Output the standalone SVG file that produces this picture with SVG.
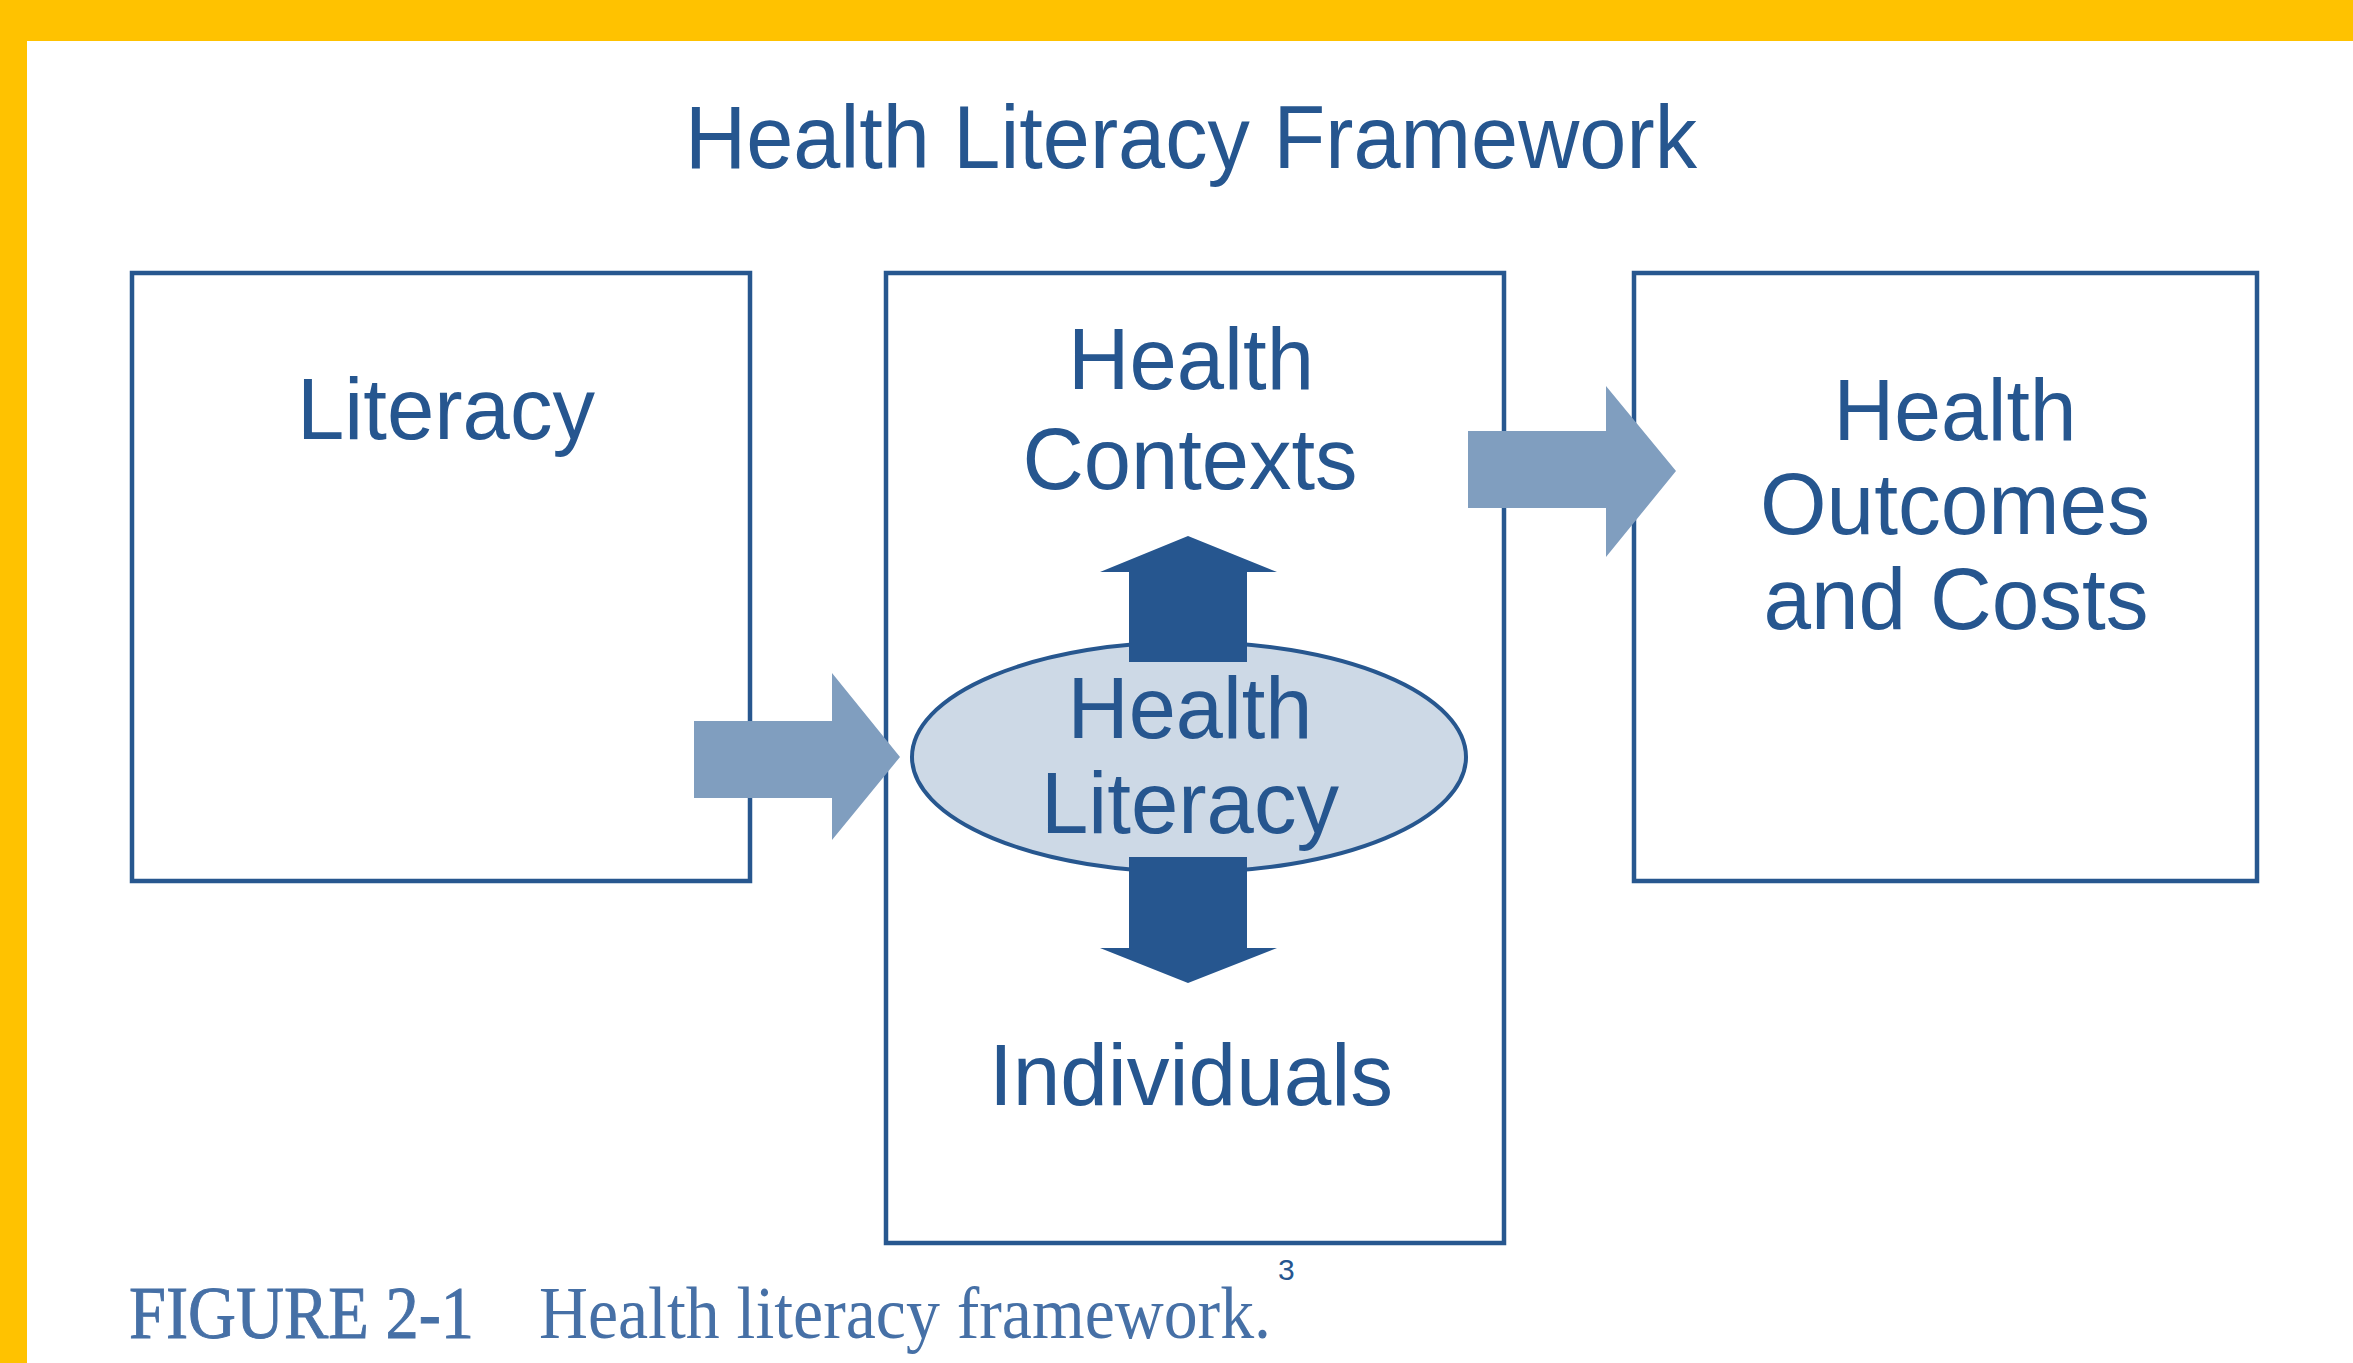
<svg xmlns="http://www.w3.org/2000/svg" width="2353" height="1363" viewBox="0 0 2353 1363">
  <style>
    .box { fill: #ffffff; stroke: #27578f; stroke-width: 4.5; }
    .lbl { font-family: "Liberation Sans", Arial, sans-serif; font-size: 88px; fill: #26568f; text-anchor: middle; }
    .title { font-family: "Liberation Sans", Arial, sans-serif; font-size: 89px; fill: #26568f; text-anchor: middle; }
    .cap { font-family: "Liberation Serif", "Times New Roman", serif; font-size: 74px; fill: #4670a6; }
    .capb { stroke: #4670a6; stroke-width: 0.9; }
    .sup { font-family: "Liberation Sans", Arial, sans-serif; font-size: 30px; fill: #26568f; }
    .light { fill: #809ebf; }
    .dark { fill: #26568f; }
  </style>
  <rect x="0" y="0" width="2353" height="1363" fill="#ffffff"/>
  <rect x="0" y="0" width="2353" height="41" fill="#ffc200"/>
  <rect x="0" y="0" width="27" height="1363" fill="#ffc200"/>

  <text class="title" x="1191" y="168" textLength="1012" lengthAdjust="spacingAndGlyphs">Health Literacy Framework</text>

  <g id="node-literacy">
    <rect class="box" x="132" y="273" width="618" height="608"/>
    <text class="lbl" x="446" y="439" textLength="298" lengthAdjust="spacingAndGlyphs">Literacy</text>
  </g>

  <g id="node-middle">
    <rect class="box" x="886" y="273" width="618" height="970"/>
    <text class="lbl" x="1191" y="389" textLength="246" lengthAdjust="spacingAndGlyphs">Health</text>
    <text class="lbl" x="1190" y="489" textLength="335" lengthAdjust="spacingAndGlyphs">Contexts</text>
    <text class="lbl" x="1191" y="1105" textLength="404" lengthAdjust="spacingAndGlyphs">Individuals</text>
  </g>

  <g id="node-health-literacy">
    <ellipse cx="1189" cy="757" rx="277" ry="115" fill="#cdd9e6" stroke="#27578f" stroke-width="4"/>
    <text class="lbl" x="1190" y="738" textLength="245" lengthAdjust="spacingAndGlyphs">Health</text>
    <text class="lbl" x="1190" y="833" textLength="298" lengthAdjust="spacingAndGlyphs">Literacy</text>
  </g>

  <g id="node-outcomes">
    <rect class="box" x="1634" y="273" width="623" height="608"/>
    <text class="lbl" x="1955" y="440" textLength="243" lengthAdjust="spacingAndGlyphs">Health</text>
    <text class="lbl" x="1955" y="534" textLength="390" lengthAdjust="spacingAndGlyphs">Outcomes</text>
    <text class="lbl" x="1956" y="629" textLength="385" lengthAdjust="spacingAndGlyphs">and Costs</text>
  </g>

  <g id="connectors">
    <polygon class="light" points="694,721 832,721 832,673 900,757 832,840 832,798 694,798"/>
    <polygon class="light" points="1468,431 1606,431 1606,386 1676,471 1606,557 1606,508 1468,508"/>
    <polygon class="dark" points="1188,536 1277,572 1247,572 1247,662 1129,662 1129,572 1100,572"/>
    <polygon class="dark" points="1129,857 1247,857 1247,948 1277,948 1188,983 1100,948 1129,948"/>
  </g>

  <g id="caption">
    <text class="cap capb" x="129" y="1338" textLength="345" lengthAdjust="spacingAndGlyphs">FIGURE 2-1</text>
    <text class="cap" x="539" y="1338" textLength="732" lengthAdjust="spacingAndGlyphs">Health literacy framework.</text>
    <text class="sup" x="1278" y="1280">3</text>
  </g>
</svg>
